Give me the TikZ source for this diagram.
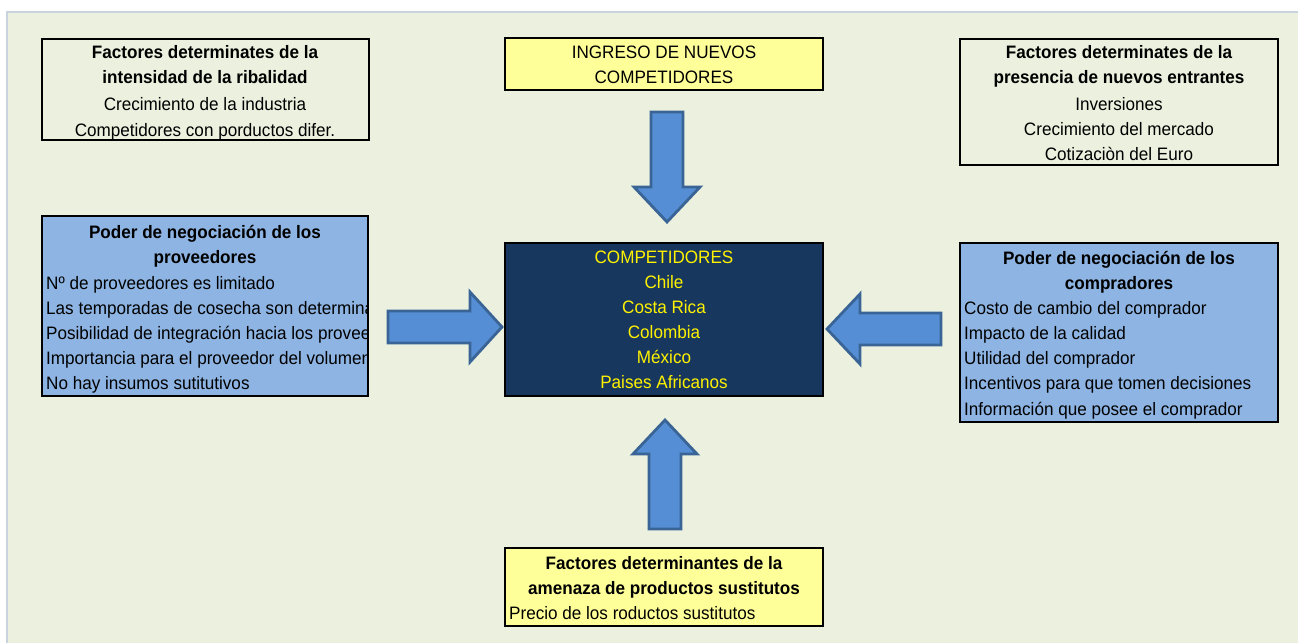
\documentclass[tikz,border=0pt]{standalone}
\usepackage{fontspec}
\setmainfont{Liberation Sans}[FakeStretch=0.95]
\begin{document}
\definecolor{sheet}{HTML}{EBF1DE}
\definecolor{sheetedge}{HTML}{C9D3E0}
\definecolor{paleblue}{HTML}{8DB4E2}
\definecolor{navy}{HTML}{17375E}
\definecolor{paleyellow}{HTML}{FFFF99}
\definecolor{arrowfill}{HTML}{558ED5}
\definecolor{arrowedge}{HTML}{3A6496}
\begin{tikzpicture}[x=1pt,y=-1pt,
  every node/.style={font=\fontsize{18}{25}\selectfont, inner sep=0pt},
  thinbox/.style={draw=black, line width=1.2pt},
  thickbox/.style={draw=black, line width=2.4pt},
  blockarrow/.style={fill=arrowfill, draw=arrowedge, line width=2.8pt, line join=miter},
  title/.style={font=\fontsize{18}{25}\selectfont\bfseries, anchor=base},
  line/.style={anchor=base},
  item/.style={anchor=base west}]
\useasboundingbox (0,0) rectangle (1298,643);
\fill[white] (0,0) rectangle (1298,643);
\fill[sheet] (7,12) rectangle (1298,643);
\draw[sheetedge, line width=1.5pt] (7,643) -- (7,12) -- (1298,12);

% --- rivalry factors (top left)
\path[thinbox] (42,39) rectangle (369,140);
\node[title] (tl1) at (205,58) {Factores determinates de la};
\node[title] (tl2) at (205,83) {intensidad de la ribalidad};
\node[line] (tl3) at (205,110) {Crecimiento de la industria};
\node[line] (tl4) at (205,136) {Competidores con porductos difer.};

% --- new competitors (top centre)
\path[thickbox, fill=paleyellow] (505,38) rectangle (823,90);
\node[line] (tc1) at (664,58) {INGRESO DE NUEVOS};
\node[line] (tc2) at (664,83) {COMPETIDORES};

% --- new entrants factors (top right)
\path[thinbox] (960,39) rectangle (1278,165);
\node[title] (tr1) at (1119,58) {Factores determinates de la};
\node[title] (tr2) at (1119,83) {presencia de nuevos entrantes};
\node[line] (tr3) at (1119,110) {Inversiones};
\node[line] (tr4) at (1119,135) {Crecimiento del mercado};
\node[line] (tr5) at (1119,160) {Cotizaciòn del Euro};

% --- suppliers (left)
\path[thickbox, fill=paleblue] (42,216) rectangle (368,396);
\begin{scope}
\clip (43,217) rectangle (367,395);
\node[title] (sp1) at (205,238) {Poder de negociación de los};
\node[title] (sp2) at (205,263) {proveedores};
\node[item] (sp3) at (46,289) {Nº de proveedores es limitado};
\node[item] (sp4) at (46,314) {Las temporadas de cosecha son determinadas};
\node[item] (sp5) at (46,339) {Posibilidad de integración hacia los proveedores};
\node[item] (sp6) at (46,364) {Importancia para el proveedor del volumen};
\node[item] (sp7) at (46,389) {No hay insumos sutitutivos};
\end{scope}

% --- competitors (centre)
\path[thickbox, fill=navy] (505,243) rectangle (823,396);
\foreach \t [count=\i, evaluate=\i as \yy using 238+25*\i] in
  {COMPETIDORES,Chile,Costa Rica,Colombia,México,Paises Africanos}
  \node[line, text=yellow] (cc\i) at (664,\yy) {\t};

% --- buyers (right)
\path[thickbox, fill=paleblue] (960,243) rectangle (1278,422);
\node[title] (by1) at (1119,264) {Poder de negociación de los};
\node[title] (by2) at (1119,289) {compradores};
\node[item] (by3) at (964,314) {Costo de cambio del comprador};
\node[item] (by4) at (964,339) {Impacto de la calidad};
\node[item] (by5) at (964,364) {Utilidad del comprador};
\node[item] (by6) at (964,389) {Incentivos para que tomen decisiones};
\node[item] (by7) at (964,415) {Información que posee el comprador};

% --- substitutes (bottom)
\path[thickbox, fill=paleyellow] (505,548) rectangle (823,626);
\node[title] (sb1) at (664,569) {Factores determinantes de la};
\node[title] (sb2) at (664,594) {amenaza de productos sustitutos};
\node[item] (sb3) at (509,619) {Precio de los roductos sustitutos};

% --- block arrows towards the centre
\path[blockarrow] (651,112) -- (683,112) -- (683,187) -- (700,187) -- (667,222)
  -- (634,187) -- (651,187) -- cycle;
\path[blockarrow] (388,311) -- (470,311) -- (470,292) -- (502,327) -- (470,362)
  -- (470,343) -- (388,343) -- cycle;
\path[blockarrow] (941,313) -- (860,313) -- (860,294) -- (827,329) -- (860,364)
  -- (860,345) -- (941,345) -- cycle;
\path[blockarrow] (649,529) -- (681,529) -- (681,454) -- (697,454) -- (665,420)
  -- (633,454) -- (649,454) -- cycle;
\end{tikzpicture}
\end{document}
